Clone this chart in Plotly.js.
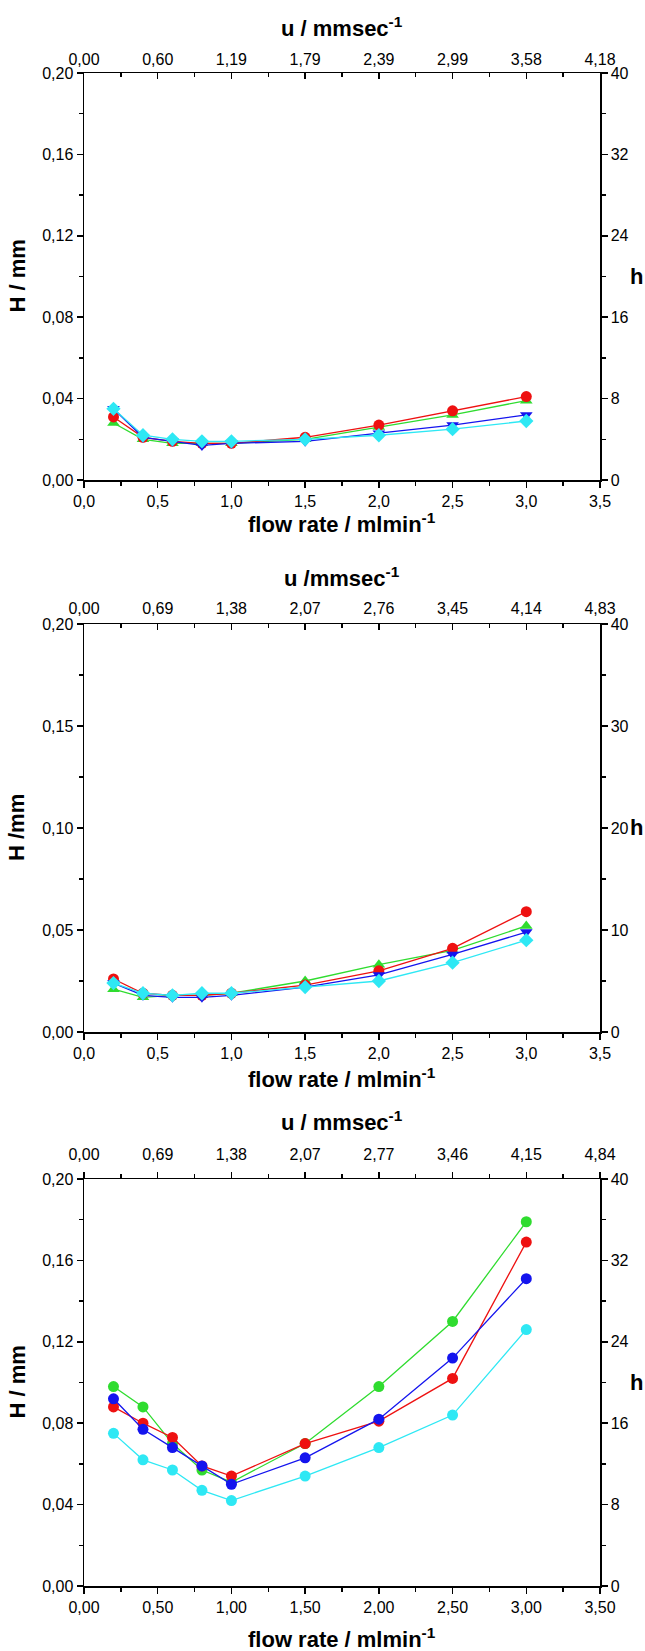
<!DOCTYPE html>
<html><head><meta charset="utf-8">
<script src="https://cdn.plot.ly/plotly-3.0.1.min.js"></script>
<style>html,body{margin:0;padding:0;background:#fff;} #chart{width:645px;height:1651px;}</style>
</head><body><div id="chart"></div>
<script>
// ---------- data ----------
const flowRate = [0.2, 0.4, 0.6, 0.8, 1.0, 1.5, 2.0, 2.5, 3.0];

// Panel 1
const p1Red   = [0.031, 0.021, 0.019, 0.018, 0.018, 0.021, 0.027, 0.034, 0.041];
const p1Green = [0.028, 0.020, 0.018, 0.018, 0.018, 0.020, 0.026, 0.032, 0.039];
const p1Blue  = [0.035, 0.021, 0.019, 0.017, 0.018, 0.019, 0.023, 0.027, 0.032];
const p1Cyan  = [0.035, 0.022, 0.020, 0.019, 0.019, 0.020, 0.022, 0.025, 0.029];

// Panel 2
const p2Red   = [0.026, 0.019, 0.018, 0.018, 0.019, 0.023, 0.030, 0.041, 0.059];
const p2Green = [0.021, 0.017, 0.018, 0.018, 0.019, 0.025, 0.033, 0.040, 0.052];
const p2Blue  = [0.024, 0.018, 0.017, 0.017, 0.018, 0.022, 0.028, 0.038, 0.049];
const p2Cyan  = [0.024, 0.019, 0.018, 0.019, 0.019, 0.022, 0.025, 0.034, 0.045];

// Panel 3
const p3Red   = [0.088, 0.080, 0.073, 0.059, 0.054, 0.070, 0.081, 0.102, 0.169];
const p3Green = [0.098, 0.088, 0.070, 0.057, 0.051, 0.070, 0.098, 0.130, 0.179];
const p3Blue  = [0.092, 0.077, 0.068, 0.059, 0.050, 0.063, 0.082, 0.112, 0.151];
const p3Cyan  = [0.075, 0.062, 0.057, 0.047, 0.042, 0.054, 0.068, 0.084, 0.126];

// top-axis tick labels (u / mm sec^-1) at flow-rate positions
const topTickFlow = [0, 0.5, 1.0, 1.5, 2.0, 2.5, 3.0, 3.5];
const u1Labels = ['0,00','0,60','1,19','1,79','2,39','2,99','3,58','4,18'];
const u2Labels = ['0,00','0,69','1,38','2,07','2,76','3,45','4,14','4,83'];
const u3Labels = ['0,00','0,69','1,38','2,07','2,77','3,46','4,15','4,84'];

// ---------- layout helpers ----------
const W = 645, H = 1651;
const L = 84, R = 600;
const panels = [
  {top: 73,   bottom: 480,  yTitle: 'H / mm', uTitle: 'u / mmsec<sup>-1</sup>', xfmt: '.1f', ldt: 0.04, rdt: 8,  topIn: true,
   uLabels: u1Labels, series: [p1Green, p1Red, p1Blue, p1Cyan], syms: ['triangle-up','circle','triangle-down','diamond'],
   uTitleY: 27, xTitleY: 523, msize: 11, topStand: 0},
  {top: 624,  bottom: 1032, yTitle: 'H /mm', uTitle: 'u /mmsec<sup>-1</sup>', xfmt: '.1f', ldt: 0.05, rdt: 10, topIn: true,
   uLabels: u2Labels, series: [p2Green, p2Red, p2Blue, p2Cyan], syms: ['triangle-up','circle','triangle-down','diamond'],
   uTitleY: 577, xTitleY: 1078, msize: 11, topStand: 2},
  {top: 1179, bottom: 1586, yTitle: 'H / mm', uTitle: 'u / mmsec<sup>-1</sup>', xfmt: '.2f', ldt: 0.04, rdt: 8,  topIn: false,
   uLabels: u3Labels, series: [p3Green, p3Red, p3Blue, p3Cyan], syms: ['circle','circle','circle','circle'],
   uTitleY: 1121, xTitleY: 1638, msize: 11, topStand: 5}
];
const colors = ['#2fdc2f', '#ee1111', '#1414ee', '#2ee8f4'];

const FONT = 'Liberation Sans, Arial, sans-serif';
const tickFont = {family: FONT, size: 16, color: '#000'};
const titleFont = {family: FONT, size: 22, color: '#000'};

const data = [];
const layout = {
  width: W, height: H, margin: {l: 0, r: 0, t: 0, b: 0},
  paper_bgcolor: '#fff', plot_bgcolor: '#fff',
  showlegend: false, separators: ',.',
  annotations: []
};
const px2x = v => v / W;
const px2y = v => 1 - v / H;

panels.forEach((p, i) => {
  const xb = 2*i + 1, xt = 2*i + 2;
  const yl = 2*i + 1, yr = 2*i + 2;
  const xbN = 'x' + (xb === 1 ? '' : xb), xtN = 'x' + xt;
  const ylN = 'y' + (yl === 1 ? '' : yl), yrN = 'y' + yr;
  const dom = [px2y(p.bottom), px2y(p.top)];
  const xdom = [px2x(L), px2x(R)];
  const common = {showline: true, linecolor: '#000', linewidth: 1.5, ticks: 'outside', ticklen: 6,
                  tickwidth: 1.5, tickcolor: '#000', showgrid: false, zeroline: false, tickfont: tickFont,
                  fixedrange: true};
  layout['xaxis' + (xb === 1 ? '' : xb)] = Object.assign({}, common, {
    domain: xdom, anchor: ylN, range: [0, 3.5], dtick: 0.5, tick0: 0, tickformat: p.xfmt,
    minor: {dtick: 0.25, ticklen: 4, tickcolor: '#000', tickwidth: 1.5}
  });
  layout['xaxis' + xt] = Object.assign({}, common, {
    overlaying: xbN, anchor: ylN, side: 'top', range: [0, 3.5],
    tickmode: 'array', tickvals: topTickFlow, ticktext: p.uLabels,
    ticks: p.topIn ? 'inside' : 'outside', ticklabelstandoff: p.topStand,
    minor: {tickmode: 'array', tickvals: [0.25, 0.75, 1.25, 1.75, 2.25, 2.75, 3.25], ticklen: 4, tickcolor: '#000', tickwidth: 1.5, ticks: p.topIn ? 'inside' : 'outside'}
  });
  layout['yaxis' + (yl === 1 ? '' : yl)] = Object.assign({}, common, {
    domain: dom, anchor: xbN, range: [0, 0.2], dtick: p.ldt, tick0: 0, tickformat: '.2f',
    minor: {dtick: p.ldt / 2, ticklen: 4, tickcolor: '#000', tickwidth: 1.5}
  });
  layout['yaxis' + yr] = Object.assign({}, common, {
    overlaying: ylN, anchor: xbN, side: 'right', range: [0, 40], dtick: p.rdt, tick0: 0,
    minor: {dtick: p.rdt / 2, ticklen: 4, tickcolor: '#000', tickwidth: 1.5}
  });

  p.series.forEach((s, k) => {
    data.push({
      type: 'scatter', mode: 'lines+markers', x: flowRate, y: s,
      xaxis: xbN, yaxis: ylN,
      line: {color: colors[k], width: 1.3},
      marker: {color: colors[k], symbol: p.syms[k], size: p.msize},
      cliponaxis: false, hoverinfo: 'x+y'
    });
  });
  // keeps the top and right scales attached to the subplot
  data.push({type: 'scatter', mode: 'markers', x: [null], y: [null], xaxis: xtN, yaxis: yrN,
             showlegend: false, hoverinfo: 'skip'});

  const midY = (p.top + p.bottom) / 2;
  layout.annotations.push(
    {text: '<b>' + p.uTitle + '</b>', xref: 'paper', yref: 'paper', x: px2x((L + R) / 2), y: px2y(p.uTitleY),
     xanchor: 'center', yanchor: 'middle', showarrow: false, font: titleFont},
    {text: '<b>flow rate / mlmin<sup>-1</sup></b>', xref: 'paper', yref: 'paper', x: px2x((L + R) / 2), y: px2y(p.xTitleY),
     xanchor: 'center', yanchor: 'middle', showarrow: false, font: titleFont},
    {text: '<b>' + p.yTitle + '</b>', xref: 'paper', yref: 'paper', x: px2x(17), y: px2y(midY), textangle: -90,
     xanchor: 'center', yanchor: 'middle', showarrow: false, font: titleFont},
    {text: '<b>h</b>', xref: 'paper', yref: 'paper', x: px2x(636), y: px2y(midY),
     xanchor: 'center', yanchor: 'middle', showarrow: false, font: titleFont}
  );
});

Plotly.newPlot('chart', data, layout, {displayModeBar: false, staticPlot: true});
</script>
</body></html>
